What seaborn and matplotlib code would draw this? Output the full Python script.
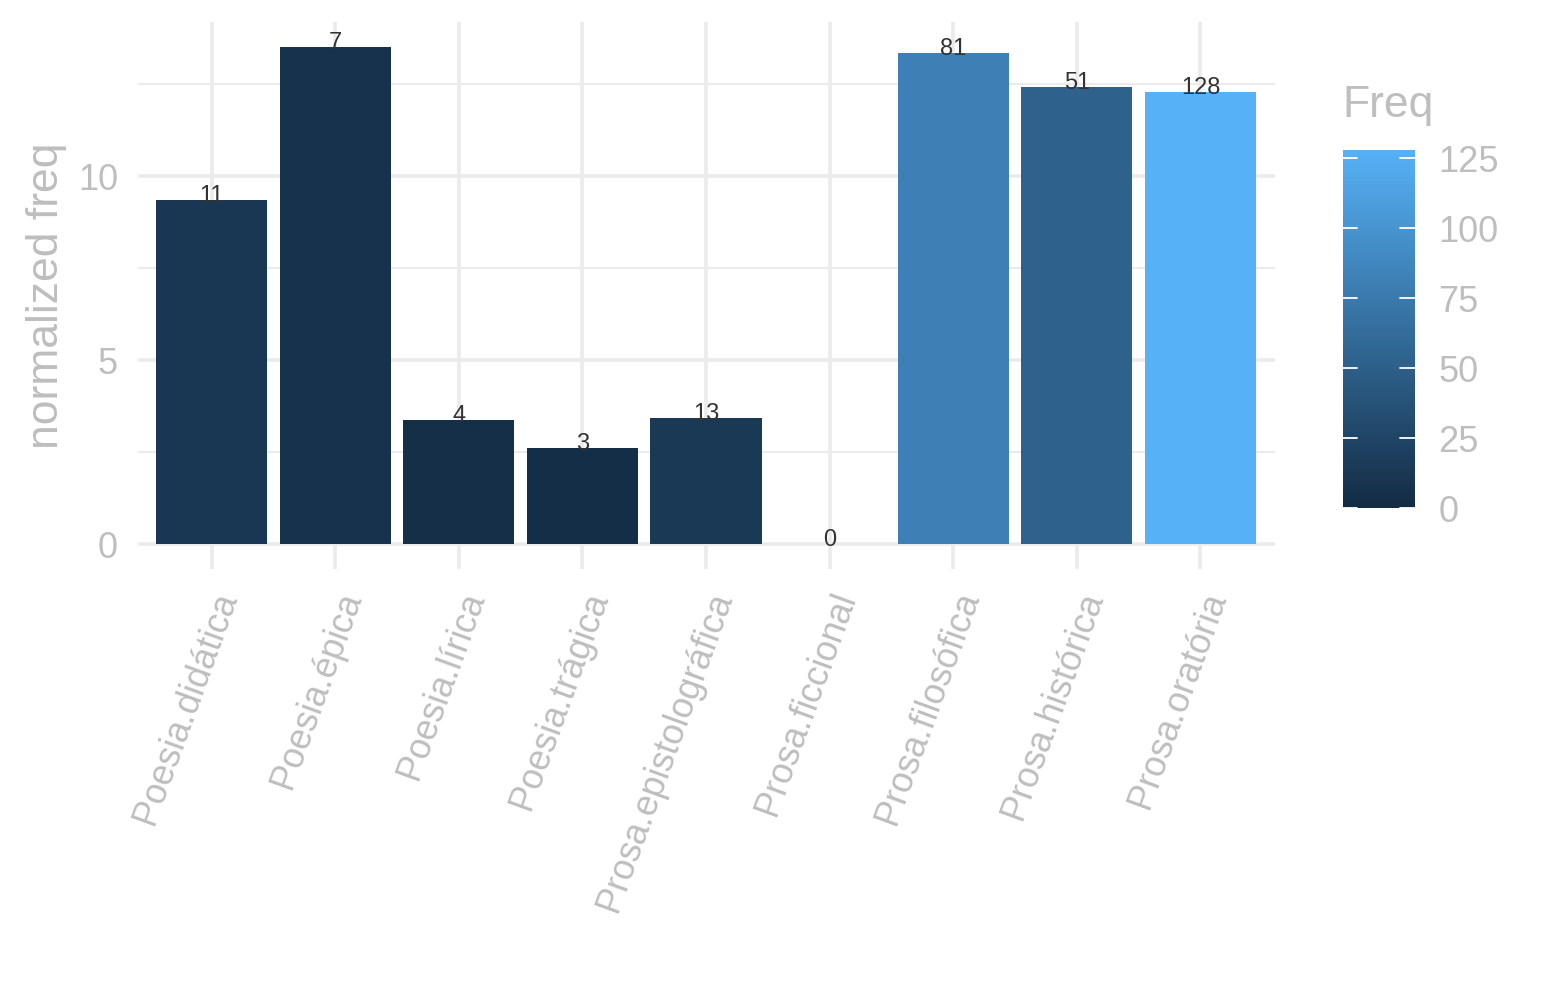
import numpy as np
import pandas as pd
import seaborn as sns
import matplotlib
matplotlib.use('Agg')
from matplotlib import pyplot as plt
from matplotlib.colors import LinearSegmentedColormap, Normalize
from matplotlib.cm import ScalarMappable

genres = ['Poesia.didática', 'Poesia.épica', 'Poesia.lírica', 'Poesia.trágica',
          'Prosa.epistolográfica', 'Prosa.ficcional', 'Prosa.filosófica',
          'Prosa.histórica', 'Prosa.oratória']
norm_freq = [9.35, 13.52, 3.38, 2.62, 3.43, 0.0, 13.36, 12.43, 12.29]
freq = [11, 7, 4, 3, 13, 0, 81, 51, 128]
cbar_ticks = [0, 25, 50, 75, 100, 125]

df = pd.DataFrame({'genre': genres, 'normfreq': norm_freq, 'Freq': freq})

sns.set_style("white")
plt.rcParams['font.family'] = ['Liberation Sans', 'DejaVu Sans']

grey_txt = '#BEBEBE'
grid_col = '#EBEBEB'
cmap = LinearSegmentedColormap.from_list('gg', ['#132B43', '#56B1F7'])
cnorm = Normalize(vmin=min(freq), vmax=max(freq))
palette = {g: cmap(cnorm(f)) for g, f in zip(genres, freq)}

fig = plt.figure(figsize=(15.45, 10), dpi=100)
ax = fig.add_axes([0.089, 0.431, 0.736, 0.547])

sns.barplot(data=df, x='genre', y='normfreq', hue='genre', palette=palette,
            legend=False, width=0.9, saturation=1, linewidth=0, ax=ax, zorder=3)

ymax = max(norm_freq)
ax.set_ylim(-0.05 * ymax, ymax * 1.05)
ax.set_xlim(-0.6, len(genres) - 0.4)

# grid like theme_minimal
ax.set_yticks([0, 5, 10])
ax.set_yticks([2.5, 7.5, 12.5], minor=True)
ax.grid(axis='y', which='major', color=grid_col, lw=2.6, zorder=0)
ax.grid(axis='y', which='minor', color=grid_col, lw=1.5, zorder=0)
ax.grid(axis='x', which='major', color=grid_col, lw=2.6, zorder=0)
for s in ax.spines.values():
    s.set_visible(False)
ax.tick_params(axis='both', which='both', length=0, labelsize=26, labelcolor=grey_txt)
ax.tick_params(axis='y', pad=14)
ax.set_xticks(range(len(genres)))
ax.set_xticklabels(genres, rotation=70, ha='right', va='top',
                   rotation_mode='anchor')
ax.tick_params(axis='x', pad=13)
ax.set_xlabel('')
ax.set_ylabel('normalized freq', fontsize=32, color=grey_txt, labelpad=8)

for i, (v, f) in enumerate(zip(norm_freq, freq)):
    ax.annotate(str(f), (i, v), xytext=(0, -5), textcoords='offset points',
                ha='center', va='bottom', fontsize=17, color='#333333', zorder=4)

# colourbar legend
cax = fig.add_axes([0.869, 0.492, 0.0466, 0.358])
cb = fig.colorbar(ScalarMappable(norm=cnorm, cmap=cmap), cax=cax)
cb.outline.set_visible(False)
cb.set_ticks(cbar_ticks)
cax.tick_params(axis='y', length=0, labelsize=26, labelcolor=grey_txt, pad=17)
for t in cbar_ticks:
    cax.axhline(t, xmin=0, xmax=0.2, color='white', lw=1.3, zorder=5)
    cax.axhline(t, xmin=0.8, xmax=1, color='white', lw=1.3, zorder=5)
fig.text(0.869, 0.895, 'Freq', fontsize=32, color=grey_txt, ha='left', va='center')

fig.savefig('out.png', dpi=100, facecolor='white')
